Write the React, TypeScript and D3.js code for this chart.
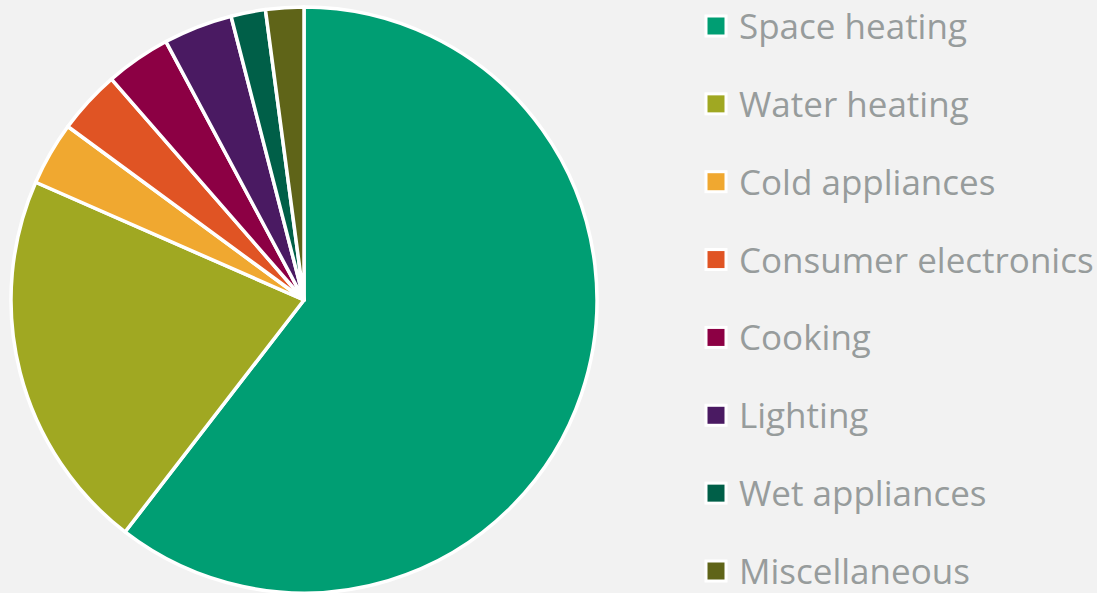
import * as d3 from 'd3';

const categories = [
  'Space heating',
  'Water heating',
  'Cold appliances',
  'Consumer electronics',
  'Cooking',
  'Lighting',
  'Wet appliances',
  'Miscellaneous',
];
const shares = [60.4, 21.1, 3.5, 3.5, 3.6, 3.8, 1.9, 2.1];
const colors = ['#009e73', '#a0a822', '#f0a830', '#e05424', '#8c0044', '#4a1a62', '#005f48', '#5f6418'];

const W = 1097;
const H = 593;

export default function App() {
  const cx = 304;
  const cy = 300;
  const r = 293;

  const pie = d3.pie<number>().sort(null).value(d => d);
  const arcs = pie(shares);
  const arc = d3.arc<d3.PieArcDatum<number>>().innerRadius(0).outerRadius(r);

  const legendY = d3.scalePoint<string>().domain(categories).range([27, 572]);

  return (
    <svg width={W} height={H} style={{ position: 'absolute', left: 0, top: 0, background: '#f2f2f2' }}>
      <rect width={W} height={H} fill="#f2f2f2" />
      <g transform={`translate(${cx},${cy})`}>
        {arcs.map((a, i) => (
          <path key={i} d={arc(a) || ''} fill={colors[i]} stroke="#fff" strokeWidth={3.5} strokeLinejoin="round" />
        ))}
      </g>
      <g>
        {categories.map((c, i) => {
          const y = legendY(c) as number;
          return (
            <g key={c} transform={`translate(0,${y})`}>
              <rect x={706} y={-11} width={20} height={20} fill={colors[i]} stroke="#fff" strokeWidth={3} />
              <text
                x={739}
                y={12}
                fontFamily="'Open Sans', 'Noto Sans', sans-serif"
                fontSize={35}
                fill="#979c9c"
              >
                {c}
              </text>
            </g>
          );
        })}
      </g>
    </svg>
  );
}
